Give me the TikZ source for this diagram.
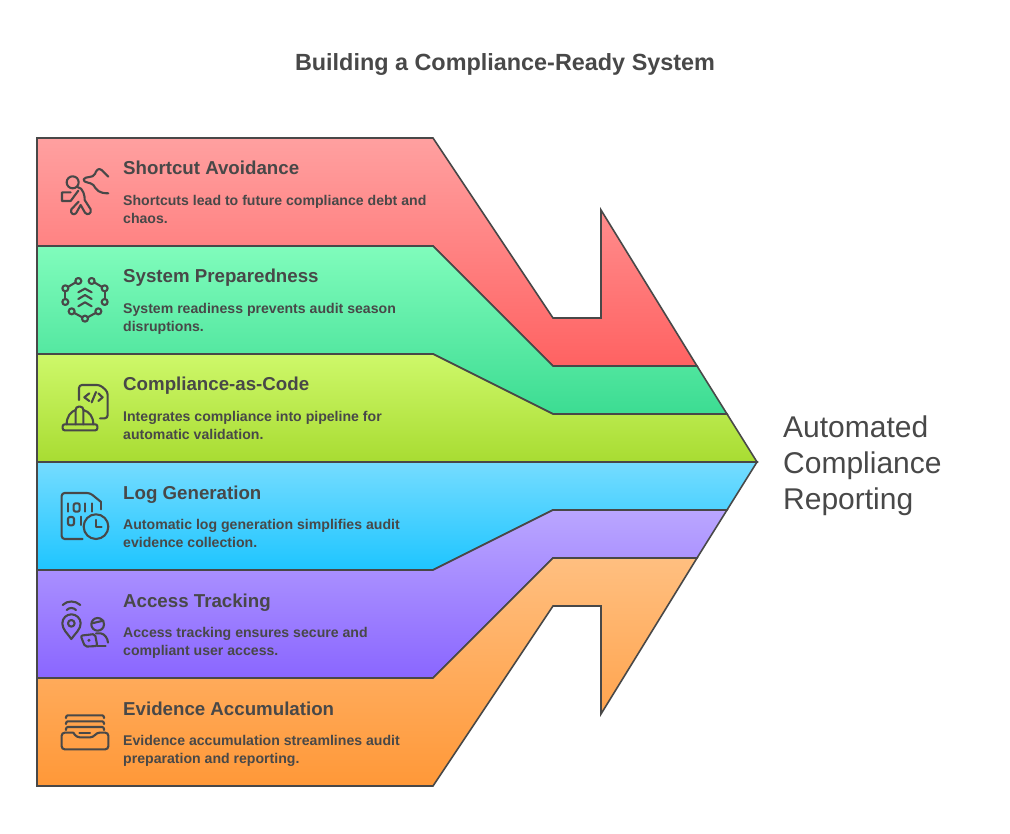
\documentclass[tikz,border=0pt]{standalone}
\usepackage{fontspec}
\setmainfont{Liberation Sans}
\definecolor{ink}{HTML}{484848}
\tikzset{
	band/.style={draw=ink, line width=1.6pt, miter limit=20},
	icon/.style={draw=ink, line width=2.1pt, line cap=round, line join=round},
	heading/.style={anchor=base west, inner sep=0pt, text=ink, font=\fontsize{18.7}{22}\selectfont\bfseries},
	blurb/.style={anchor=north west, inner sep=0pt, text=ink, align=left, font=\fontsize{14.1}{18}\selectfont\bfseries},
}
\begin{document}
\begin{tikzpicture}[x=1pt,y=-1pt]
	\useasboundingbox (0,0) rectangle (1010,834);
	
	\node [anchor=base, inner sep=0pt, text=ink, font=\fontsize{23.4}{28}\selectfont\bfseries] (title) at (505, 71) {Building a Compliance-Ready System};
	
	% bands
	\path [band, top color={rgb,255:red,255;green,160;blue,160}, bottom color={rgb,255:red,255;green,98;blue,98}]
		(37, 138) -- (433, 138) -- (553, 318) -- (601, 318) -- (601, 210) -- (697, 366) -- (553, 366) -- (433, 246) -- (37, 246) -- cycle;
	\path [band, top color={rgb,255:red,128;green,252;blue,188}, bottom color={rgb,255:red,60;green,220;blue,146}]
		(37, 246) -- (433, 246) -- (553, 366) -- (697, 366) -- (727, 414) -- (553, 414) -- (433, 354) -- (37, 354) -- cycle;
	\path [band, top color={rgb,255:red,206;green,248;blue,106}, bottom color={rgb,255:red,168;green,220;blue,50}]
		(37, 354) -- (433, 354) -- (553, 414) -- (727, 414) -- (757, 462) -- (37, 462) -- cycle;
	\path [band, top color={rgb,255:red,117;green,220;blue,255}, bottom color={rgb,255:red,30;green,197;blue,255}]
		(37, 462) -- (757, 462) -- (727, 510) -- (553, 510) -- (433, 570) -- (37, 570) -- cycle;
	\path [band, top color={rgb,255:red,186;green,166;blue,255}, bottom color={rgb,255:red,138;green,102;blue,255}]
		(37, 570) -- (433, 570) -- (553, 510) -- (727, 510) -- (697, 558) -- (553, 558) -- (433, 678) -- (37, 678) -- cycle;
	\path [band, top color={rgb,255:red,255;green,191;blue,128}, bottom color={rgb,255:red,255;green,152;blue,56}]
		(37, 678) -- (433, 678) -- (553, 558) -- (697, 558) -- (601, 714) -- (601, 606) -- (553, 606) -- (433, 786) -- (37, 786) -- cycle;
	
	% labels
	\node [heading] (shortcut) at (123, 175) {Shortcut Avoidance};
	\node [blurb] (shortcuttext) at (123, 195) {Shortcuts lead to future compliance debt and\\chaos.};
	\node [heading] (system) at (123, 283) {System Preparedness};
	\node [blurb] (systemtext) at (123, 303) {System readiness prevents audit season\\disruptions.};
	\node [heading] (code) at (123, 391) {Compliance-as-Code};
	\node [blurb] (codetext) at (123, 411) {Integrates compliance into pipeline for\\automatic validation.};
	\node [heading] (log) at (123, 499) {Log Generation};
	\node [blurb] (logtext) at (123, 519) {Automatic log generation simplifies audit\\evidence collection.};
	\node [heading] (access) at (123, 607) {Access Tracking};
	\node [blurb] (accesstext) at (123, 627) {Access tracking ensures secure and\\compliant user access.};
	\node [heading] (evidence) at (123, 715) {Evidence Accumulation};
	\node [blurb] (evidencetext) at (123, 735) {Evidence accumulation streamlines audit\\preparation and reporting.};
	
	\node [anchor=north west, inner sep=0pt, text=ink, align=left, font=\fontsize{30}{36}\selectfont] (result) at (783, 416) {Automated\\Compliance\\Reporting};
	
	% runner
	\begin{scope}[shift={(40,150)},x=0.3333pt,y=-0.3333pt]
		\draw [icon] (98, 97) circle (18);
		\draw [icon] (92, 127) -- (66, 127) -- (66, 153) -- (92, 153) -- (115, 122);
		\draw [icon] (112, 111) .. controls (130, 112) and (135, 140) .. (134, 150) -- (152, 178) .. controls (156, 190) and (142, 198) .. (135, 188) -- (122, 165) -- (108, 190) .. controls (100, 197) and (90, 190) .. (94, 178) -- (116, 155);
		\draw [icon] (205, 80) -- (185, 60) .. controls (175, 52) and (168, 62) .. (165, 72) .. controls (160, 85) and (135, 78) .. (131, 88) .. controls (130, 100) and (150, 95) .. (160, 105) .. controls (170, 120) and (175, 130) .. (205, 130);
	\end{scope}
	
	% network
	\begin{scope}[shift={(40,150)},x=0.3333pt,y=-0.3333pt]
		\foreach \cx/\cy in {76/415, 115/393, 155/393, 194/415, 194/456, 175/484, 135/506, 95/484, 76/456}
			\draw [icon] (\cx, \cy) circle (9);
		\draw [icon] (84, 411) -- (107, 397);
		\draw [icon] (163, 397) -- (186, 411);
		\draw [icon] (76, 424) -- (76, 447);
		\draw [icon] (194, 424) -- (194, 447);
		\draw [icon] (103, 489) -- (127, 502);
		\draw [icon] (143, 502) -- (167, 489);
		\draw [icon] (115, 427) -- (135, 416) -- (155, 427);
		\draw [icon] (115, 447) -- (135, 435) -- (155, 447);
		\draw [icon] (115, 469) -- (135, 457) -- (155, 469);
	\end{scope}
	
	% helmet
	\begin{scope}[shift={(40,370)},x=0.3333pt,y=-0.3333pt]
		\draw [icon, rounded corners=3pt] (117, 90) -- (117, 45) -- (180, 45) -- (203, 65) -- (203, 145) -- (180, 145);
		\draw [icon] (148, 70) -- (133, 82) -- (148, 93);
		\draw [icon] (175, 70) -- (188, 82) -- (175, 93);
		\draw [icon] (168, 66) -- (155, 97);
		\draw [icon, rounded corners=2pt] (68, 163) rectangle (172, 181);
		\draw [icon] (80, 163) .. controls (80, 140) and (92, 125) .. (107, 120);
		\draw [icon] (160, 163) .. controls (160, 140) and (148, 125) .. (130, 120);
		\draw [icon, rounded corners=3pt] (107, 163) -- (107, 110) -- (130, 110) -- (130, 163);
	\end{scope}
	
	% log file
	\begin{scope}[shift={(40,370)},x=0.3333pt,y=-0.3333pt]
		\draw [icon, rounded corners=3pt] (128, 507) -- (65, 507) -- (65, 369) -- (150, 369) -- (182, 395);
		\draw [icon] (182, 395) -- (182, 418);
		\draw [icon] (83, 400) -- (83, 425);
		\draw [icon, rounded corners=2pt] (101, 400) rectangle (119, 425);
		\draw [icon] (135, 400) -- (135, 425);
		\draw [icon] (155, 400) -- (155, 425);
		\draw [icon, rounded corners=2pt] (84, 441) rectangle (102, 466);
		\draw [icon] (122, 440) -- (122, 465);
		\draw [icon] (168, 470) circle (37);
		\draw [icon] (168, 450) -- (168, 470) -- (185, 470);
	\end{scope}
	
	% tracking
	\begin{scope}[shift={(40,590)},x=0.3333pt,y=-0.3333pt]
		\draw [icon] (94, 100) circle (10);
		\draw [icon] (94, 147) .. controls (82, 130) and (67, 118) .. (67, 100) .. controls (67, 84) and (80, 73) .. (94, 73) .. controls (108, 73) and (122, 84) .. (122, 100) .. controls (122, 118) and (106, 130) .. (94, 147) -- cycle;
		\draw [icon] (80, 60) .. controls (88, 52) and (100, 52) .. (108, 60);
		\draw [icon] (68, 45) .. controls (82, 31) and (106, 31) .. (121, 45);
		\draw [icon] (173, 103) circle (19);
		\draw [icon] (156, 100) -- (190, 92);
		\draw [icon] (168, 130) -- (182, 130) .. controls (195, 132) and (203, 145) .. (204, 158);
		\draw [icon, rounded corners=2pt] (122, 137) -- (165, 132) -- (172, 168) -- (135, 170) -- cycle;
		\draw [icon] (172, 168) -- (197, 168);
		\fill [ink] (147, 151) circle (5);
	\end{scope}
	
	% tray
	\begin{scope}[shift={(40,590)},x=0.3333pt,y=-0.3333pt]
		\draw [icon, rounded corners=2pt] (78, 384) -- (78, 376) -- (192, 376) -- (192, 384);
		\draw [icon, rounded corners=2pt] (78, 402) -- (78, 394) -- (192, 394) -- (192, 402);
		\draw [icon, rounded corners=2pt] (78, 420) -- (78, 411) -- (192, 411) -- (192, 420);
		\draw [icon, rounded corners=3pt] (100, 428) -- (65, 428) -- (65, 478) -- (205, 478) -- (205, 428) -- (170, 428) -- (160, 442) -- (110, 442) -- (100, 428);
		\draw [icon] (118, 428) -- (150, 428);
	\end{scope}
\end{tikzpicture}
\end{document}
